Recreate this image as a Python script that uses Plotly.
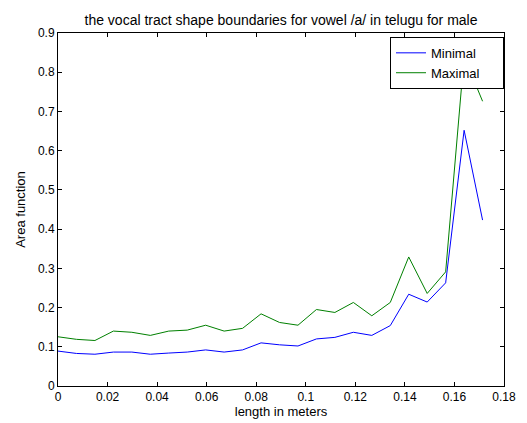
import plotly.graph_objects as go

step = 0.00745
length_m = [round(i * step, 5) for i in range(24)]
minimal = [0.089, 0.083, 0.081, 0.0865, 0.0865, 0.081, 0.084, 0.0865, 0.092, 0.0865,
           0.092, 0.110, 0.105, 0.102, 0.120, 0.124, 0.137, 0.129, 0.154, 0.234,
           0.214, 0.263, 0.652, 0.423]
maximal = [0.1255, 0.119, 0.116, 0.140, 0.137, 0.129, 0.140, 0.1425, 0.155, 0.140,
           0.147, 0.184, 0.162, 0.155, 0.195, 0.1875, 0.213, 0.179, 0.213, 0.329,
           0.236, 0.291, 0.84, 0.726]

x_ticks = [0, 0.02, 0.04, 0.06, 0.08, 0.1, 0.12, 0.14, 0.16, 0.18]
x_ticktext = ["0", "0.02", "0.04", "0.06", "0.08", "0.1", "0.12", "0.14", "0.16", "0.18"]
y_ticks = [0, 0.1, 0.2, 0.3, 0.4, 0.5, 0.6, 0.7, 0.8, 0.9]
y_ticktext = ["0", "0.1", "0.2", "0.3", "0.4", "0.5", "0.6", "0.7", "0.8", "0.9"]

font = "Liberation Sans, Arial, sans-serif"
NBSP = "\u00a0"

fig = go.Figure()
fig.add_trace(go.Scatter(x=length_m, y=minimal, mode="lines", name="Minimal" + NBSP * 5,
                         line=dict(color="#0000ff", width=1)))
fig.add_trace(go.Scatter(x=length_m, y=maximal, mode="lines", name="Maximal" + NBSP * 5,
                         line=dict(color="#008000", width=1)))

axis_common = dict(showgrid=False, zeroline=False, showline=True, linecolor="black",
                   linewidth=1, mirror="ticks", ticks="inside", ticklen=4,
                   tickcolor="black", automargin=False,
                   tickfont=dict(family=font, size=12, color="black"))

fig.update_layout(
    width=527, height=423,
    paper_bgcolor="white", plot_bgcolor="white",
    margin=dict(l=58, r=23, t=33, b=37),
    title=dict(text="the vocal tract shape boundaries for vowel /a/ in telugu for male",
               font=dict(family=font, size=14, color="black"),
               x=0.5, xref="paper", xanchor="center", y=1, yref="paper", yanchor="bottom",
               pad=dict(b=8)),
    xaxis=dict(range=[0, 0.18], tickvals=x_ticks, ticktext=x_ticktext,
               title=dict(text="length in meters", font=dict(family=font, size=13, color="black"),
                          standoff=3),
               **axis_common),
    yaxis=dict(range=[0, 0.9], tickvals=y_ticks, ticktext=y_ticktext,
               title=dict(text="Area function", font=dict(family=font, size=13, color="black"),
                          standoff=9),
               **axis_common),
    legend=dict(x=1.0, y=0.989, xanchor="right", yanchor="top",
                bgcolor="white", bordercolor="black", borderwidth=1,
                font=dict(family=font, size=13, color="black"),
                tracegroupgap=0),
    showlegend=True,
)

fig.write_html("out.html", config={"displayModeBar": False},
               post_script="document.body.style.margin='0';document.body.style.overflow='hidden';")
